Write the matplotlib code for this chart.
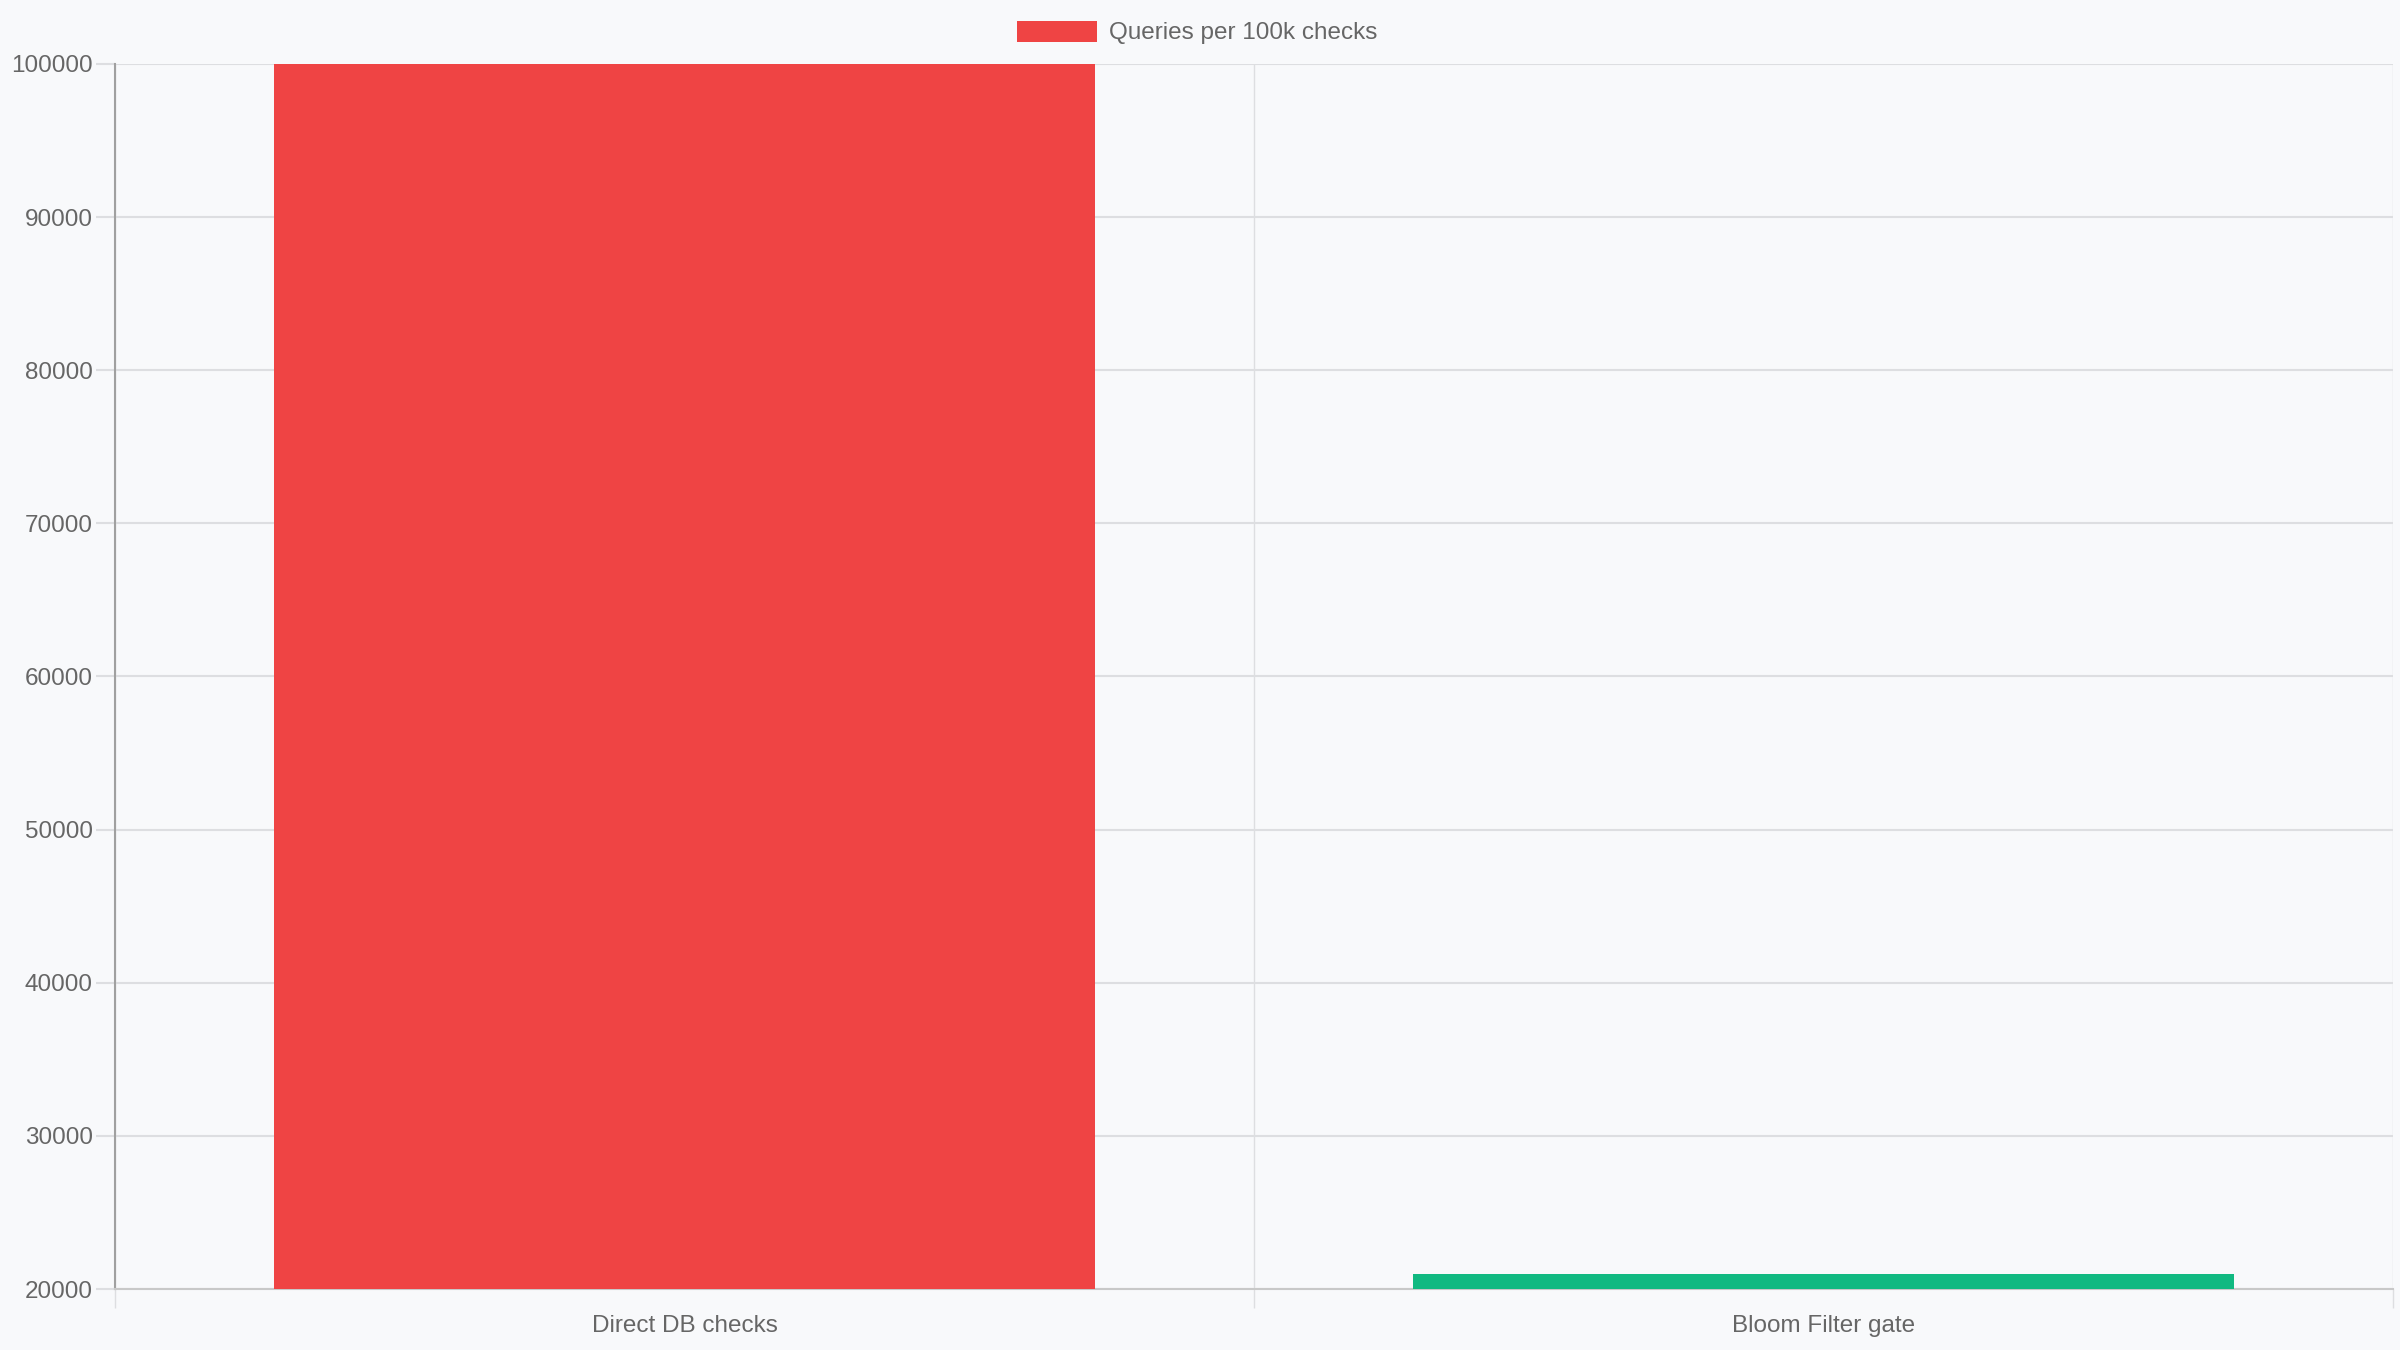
import matplotlib
matplotlib.use("Agg")
import matplotlib.pyplot as plt
from matplotlib.ticker import FixedLocator

categories = ["Direct DB checks", "Bloom Filter gate"]
queries = [100000, 21000]
bar_colors = ["#ef4444", "#10b981"]
series_label = "Queries per 100k checks"
y_ticks = [20000, 30000, 40000, 50000, 60000, 70000, 80000, 90000, 100000]

plt.rcParams['font.family'] = ['Liberation Sans', 'DejaVu Sans']

bg = "#f8f9fb"
grid_c = "#dddee1"
text_c = "#666666"

fig = plt.figure(figsize=(24, 13.5), dpi=100, facecolor=bg)
ax = fig.add_axes([115 / 2400, 1 - 1289 / 1350, (2393 - 115) / 2400, (1289 - 64) / 1350])
ax.set_facecolor(bg)

x = list(range(len(categories)))
bars = ax.bar(x, queries, width=0.72, color=bar_colors, label=series_label, zorder=3)

ax.set_xlim(-0.5, len(categories) - 0.5)
ax.set_ylim(y_ticks[0], y_ticks[-1])

# category labels on major ticks, grid lines between categories on minor ticks
ax.set_xticks(x)
ax.set_xticklabels(categories)
ax.xaxis.set_minor_locator(FixedLocator([i - 0.5 for i in range(len(categories) + 1)]))
ax.tick_params(axis="x", which="major", length=0, pad=19, labelsize=17.5, labelcolor=text_c)
ax.tick_params(axis="x", which="minor", length=14, width=1, color=grid_c)
ax.grid(which="minor", axis="x", color=grid_c, linewidth=1, zorder=0)

ax.set_yticks(y_ticks)
ax.set_yticklabels([str(v) for v in y_ticks])
ax.tick_params(axis="y", length=14, width=1.5, color=grid_c, pad=2, labelsize=17.5, labelcolor=text_c)
ax.grid(which="major", axis="y", color=grid_c, linewidth=1.5, zorder=0)

for side in ["top", "right"]:
    ax.spines[side].set_visible(False)
ax.spines["left"].set_color("#a0a0a0")
ax.spines["left"].set_linewidth(1.5)
ax.spines["bottom"].set_color("#c8c8c8")
ax.spines["bottom"].set_linewidth(1.5)

leg = fig.legend(handles=[bars[0]], labels=[series_label], loc="center",
                 bbox_to_anchor=(1197 / 2400, 1 - 32.5 / 1350), frameon=False,
                 fontsize=17.5, handlelength=3.3, handleheight=0.95, handletextpad=0.5,
                 borderpad=0)
for t in leg.get_texts():
    t.set_color(text_c)

fig.savefig("out.png", dpi=100, facecolor=bg)
